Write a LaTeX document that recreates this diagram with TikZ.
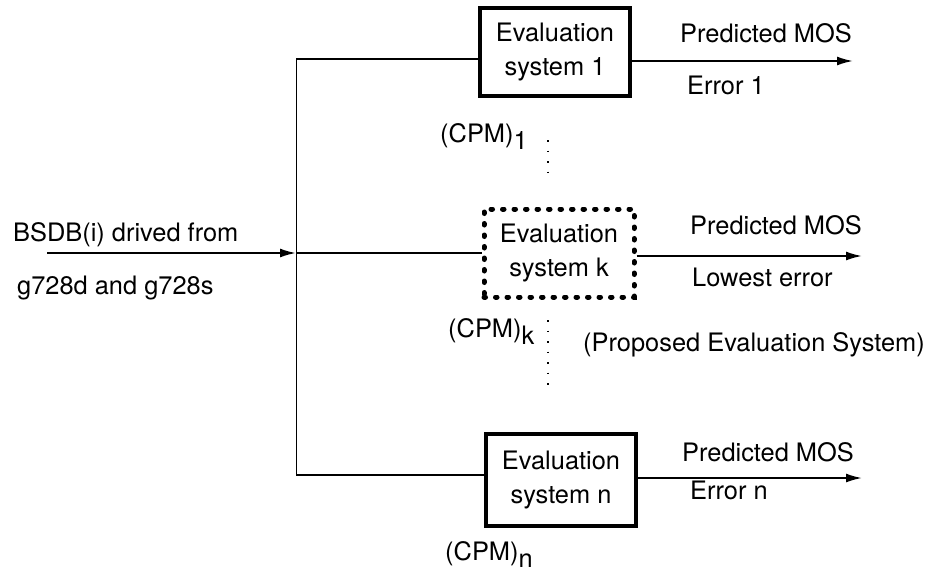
\documentclass[tikz,border=0pt]{standalone}
\usepackage{fontspec}
\setmainfont{TeX Gyre Heros}
\usetikzlibrary{arrows.meta}
\newcommand\cpmlabel[1]{(CPM)\raisebox{-7pt}{#1}}
\begin{document}
\begin{tikzpicture}[x=1pt,y=-1pt,
  txt/.style={font=\fontsize{25.4}{34}\selectfont, inner sep=0pt},
  evalbox/.style={txt, draw, line width=4.5pt, minimum width=150pt,
                  minimum height=88pt, align=center},
  dotbox/.style={evalbox, line width=5pt, dash pattern=on 1.5pt off 10pt, line cap=round},
  wire/.style={line width=1.9pt},
  arrowwire/.style={wire, -{Latex[length=16pt,width=9pt]}},
  bus/.style={line width=1pt},
  gapdots/.style={line width=1.3pt, dash pattern=on 1.5pt off 9pt}
]
\useasboundingbox (0,0) rectangle (940,571);

% evaluation systems
\node[evalbox] (e1) at (555,52) {Evaluation\\system 1};
\node[dotbox]  (ek) at (559,253) {Evaluation\\system k};
\node[evalbox, minimum height=92pt] (en) at (561,480) {Evaluation\\system n};

% input database
\node[txt, anchor=base west] (src1) at (13,241) {BSDB(i) drived from};
\node[txt, anchor=base west] (src2) at (17,294) {g728d and g728s};

% distribution bus
\coordinate (in)  at (47,253);
\coordinate (j)   at (296,253);
\coordinate (top) at (296,59);
\coordinate (bot) at (296,475);
\draw[arrowwire] (in) -- (j);
\draw[bus] (top) -- (bot);
\draw[wire] (top) -- (top -| e1.west);
\draw[wire] (j) -- (j -| ek.west);
\draw[wire] (bot) -- (bot -| en.west);

% outputs
\coordinate (o1) at (853,61);
\coordinate (ok) at (862,256);
\coordinate (on) at (862,478);
\draw[arrowwire] (o1 -| e1.east) -- (o1);
\draw[arrowwire] (ok -| ek.east) -- (ok);
\draw[arrowwire] (on -| en.east) -- (on);

% output labels
\node[txt, anchor=base] (p1) at (766,42) {Predicted MOS};
\node[txt, anchor=base west] (r1) at (687,94) {Error 1};
\node[txt, anchor=base] (pk) at (776,234) {Predicted MOS};
\node[txt, anchor=base west] (rk) at (692,286) {Lowest error};
\node[txt, anchor=base west] (prop) at (583,351) {(Proposed Evaluation System)};
\node[txt, anchor=base] (pn) at (768,461) {Predicted MOS};
\node[txt, anchor=base west] (rn) at (690,499) {Error n};

% parameter sets
\node[txt, anchor=base west] (c1) at (440,142) {\cpmlabel{1}};
\node[txt, anchor=base west] (ck) at (448,337) {\cpmlabel{k}};
\node[txt, anchor=base west] (cn) at (445,560) {\cpmlabel{n}};

% omitted systems
\draw[gapdots] (548,140) -- (548,178);
\draw[gapdots] (548,320) -- (548,385);
\end{tikzpicture}
\end{document}
